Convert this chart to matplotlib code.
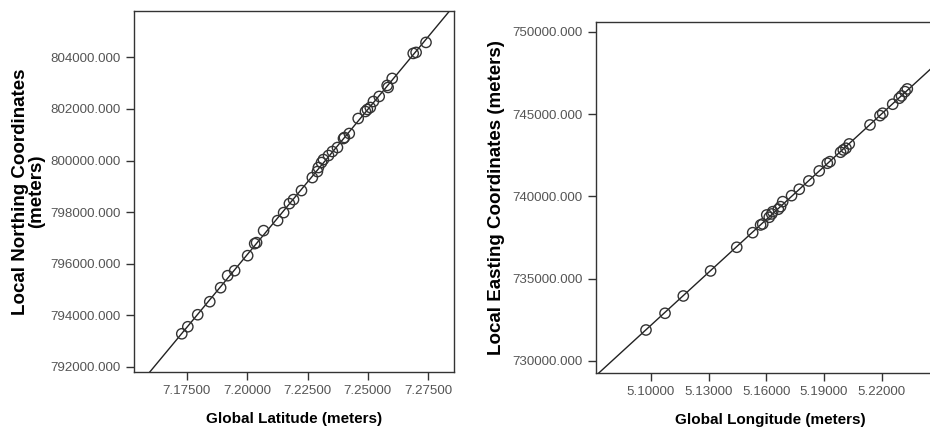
import matplotlib.pyplot as plt
import numpy as np

plt.rcParams['font.family'] = ['Liberation Sans', 'DejaVu Sans']

# left panel: latitude vs local northing
lat = [7.1729, 7.1754, 7.1795, 7.1845, 7.1890, 7.1919, 7.1948, 7.2002, 7.2031, 7.2039,
       7.2068, 7.2126, 7.2151, 7.2175, 7.2192, 7.2225, 7.2270, 7.2291, 7.2295, 7.2308,
       7.2316, 7.2337, 7.2353, 7.2374, 7.2399, 7.2403, 7.2423, 7.2460, 7.2490, 7.2498,
       7.2510, 7.2523, 7.2547, 7.2580, 7.2584, 7.2601, 7.2688, 7.2700, 7.2741]
northing = [793282, 793555, 794021, 794526, 795069, 795535, 795729, 796312, 796778, 796817,
            797282, 797671, 797981, 798331, 798486, 798836, 799340, 799573, 799729, 799923,
            800039, 800195, 800350, 800505, 800855, 800894, 801049, 801631, 801903, 801981,
            802058, 802291, 802486, 802913, 802835, 803185, 804155, 804194, 804582]

# right panel: longitude vs local easting
lon = [5.0974, 5.1073, 5.1168, 5.1310, 5.1446, 5.1529, 5.1570, 5.1581, 5.1602, 5.1615,
       5.1628, 5.1633, 5.1662, 5.1674, 5.1685, 5.1731, 5.1771, 5.1821, 5.1875, 5.1917,
       5.1931, 5.1986, 5.2000, 5.2014, 5.2031, 5.2139, 5.2191, 5.2205, 5.2257, 5.2291,
       5.2303, 5.2321, 5.2333]
easting = [731883, 732898, 733949, 735468, 736907, 737794, 738262, 738323, 738870, 738730,
           738930, 739070, 739216, 739374, 739678, 740042, 740431, 740935, 741543, 742010,
           742108, 742679, 742818, 742922, 743183, 744337, 744902, 745048, 745595, 745959,
           746099, 746360, 746524]

lat_ticks = [7.175, 7.200, 7.225, 7.250, 7.275]
north_ticks = [792000, 794000, 796000, 798000, 800000, 802000, 804000]
lon_ticks = [5.10, 5.13, 5.16, 5.19, 5.22]
east_ticks = [730000, 735000, 740000, 745000, 750000]

W, H = 930, 432
fig = plt.figure(figsize=(9.3, 4.32), dpi=100)


def px_axes(l, t, r, b):
    return fig.add_axes([l / W, 1 - b / H, (r - l) / W, (b - t) / H])


def style(ax):
    for s in ax.spines.values():
        s.set_color('#333333')
        s.set_linewidth(1.0)
    ax.tick_params(direction='out', length=6, width=1, color='#333333',
                   labelsize=9.6, labelcolor='#555555', top=False, right=False)


def panel(ax, x, y, xlim, ylim, xticks, yticks, xfmt):
    # straight fit line through the points, drawn across the whole axis
    k, c = np.polyfit(x, y, 1)
    xs = np.array(xlim)
    ax.plot(xs, k * xs + c, color='#222222', lw=1.0, zorder=1)
    ax.scatter(x, y, s=55, facecolors='none', edgecolors='#333333', linewidths=1.0, zorder=2)
    ax.set_xlim(*xlim)
    ax.set_ylim(*ylim)
    ax.set_xticks(xticks)
    ax.set_xticklabels([xfmt % v for v in xticks])
    ax.set_yticks(yticks)
    ax.set_yticklabels(['%.3f' % v for v in yticks])
    style(ax)


ax1 = px_axes(134, 11, 454, 372)
panel(ax1, lat, northing, (7.1531, 7.2857), (791800, 805800),
      lat_ticks, north_ticks, '%.5f')
ax1.set_xlabel('Global Latitude (meters)', fontsize=11, fontweight='bold', labelpad=11)
ax1.set_ylabel('Local Northing Coordinates\n(meters)', fontsize=13.5, fontweight='bold',
               labelpad=4, linespacing=0.9)

ax2 = px_axes(596, 22, 945, 373)
panel(ax2, lon, easting, (5.0714, 5.2529), (729271, 750589),
      lon_ticks, east_ticks, '%.5f')
ax2.set_xlabel('Global Longitude (meters)', fontsize=11, fontweight='bold', labelpad=11)
ax2.set_ylabel('Local Easting Coordinates (meters)', fontsize=13.5, fontweight='bold',
               labelpad=5)

fig.savefig('out.png', dpi=100)
